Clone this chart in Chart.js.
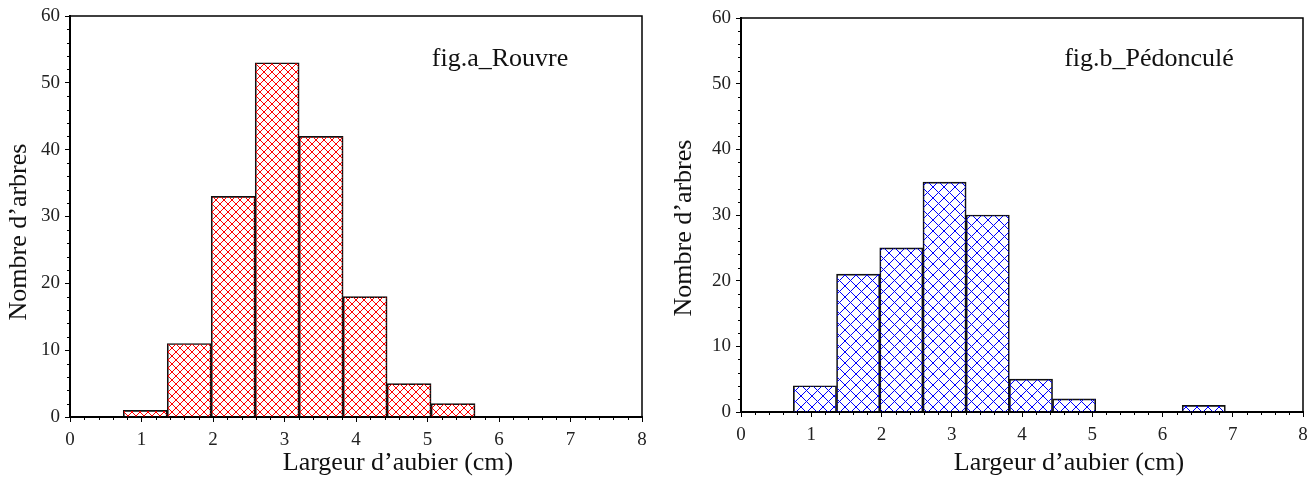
<!DOCTYPE html>
<html>
<head>
<meta charset="utf-8">
<script src="https://cdn.jsdelivr.net/npm/chart.js@4.4.1/dist/chart.umd.min.js"></script>
<style>
  body { margin: 0; background: #fff; }
  #wrap { position: relative; width: 1316px; height: 477px; }
  canvas { position: absolute; top: 0; }
  #chartA { left: 0; }
  #chartB { left: 658px; }
</style>
</head>
<body>
<div id="wrap">
  <canvas id="chartA" width="658" height="477"></canvas>
  <canvas id="chartB" width="658" height="477"></canvas>
</div>
<script>
// class centres (cm), classes are 0.615 cm wide starting at 0.745
const binCenters = [1.0525, 1.6675, 2.2825, 2.8975, 3.5125, 4.1275, 4.7425, 5.3575, 5.9725, 6.5875];
const rouvreCounts = [1, 11, 33, 53, 42, 18, 5, 2, 0, 0];
const pedonculeCounts = [4, 21, 25, 35, 30, 5, 2, 0, 0, 1];
const xTickValues = [0, 1, 2, 3, 4, 5, 6, 7, 8];
const yTickValues = [0, 10, 20, 30, 40, 50, 60];
const xTitle = 'Largeur d\u2019aubier (cm)';
const yTitle = 'Nombre d\u2019arbres';

const serif = '"Liberation Serif", "Times New Roman", serif';

// crisp 1px cross hatch
function hatch(color, size) {
  const c = document.createElement('canvas');
  c.width = size;
  c.height = size;
  const g = c.getContext('2d');
  g.fillStyle = color;
  for (let i = 0; i < size; i++) {
    g.fillRect(i, i, 1, 1);
    g.fillRect(size - 1 - i, i, 1, 1);
  }
  return g.createPattern(c, 'repeat');
}

// frame, minor ticks and texts
const decor = {
  id: 'decor',
  afterDraw(chart, args, o) {
    const { ctx, chartArea: a, scales: { x, y } } = chart;
    ctx.save();
    ctx.strokeStyle = '#000';
    ctx.lineWidth = 1.5;
    ctx.beginPath();
    ctx.moveTo(a.left, a.top);
    ctx.lineTo(a.right, a.top);
    ctx.lineTo(a.right, a.bottom);
    ctx.stroke();

    ctx.lineWidth = 1;
    ctx.beginPath();
    for (let i = 1; i < 40; i++) {
      if (i % 5 === 0) continue;
      const px = Math.round(x.getPixelForValue(i * 0.2)) + 0.5;
      ctx.moveTo(px, a.bottom);
      ctx.lineTo(px, a.bottom + 3);
    }
    for (let v = 2; v < 60; v += 2) {
      if (v % 10 === 0) continue;
      const py = Math.round(y.getPixelForValue(v)) + 0.5;
      ctx.moveTo(a.left - 3, py);
      ctx.lineTo(a.left, py);
    }
    ctx.stroke();

    ctx.fillStyle = '#111';
    ctx.font = '26px ' + serif;
    ctx.textAlign = 'center';
    ctx.textBaseline = 'alphabetic';
    ctx.fillText(o.title, o.titleX, 66);
    ctx.fillText(xTitle, a.left + 328, 470);
    ctx.translate(o.yTitleX, o.yTitleY);
    ctx.rotate(-Math.PI / 2);
    ctx.textBaseline = 'middle';
    ctx.fillText(yTitle, 0, 0);
    ctx.restore();
  }
};

function makeChart(id, counts, color, size, pad, deco) {
  const ctx = document.getElementById(id).getContext('2d');
  return new Chart(ctx, {
    type: 'bar',
    data: {
      datasets: [{
        data: binCenters.map((c, i) => ({ x: c, y: counts[i] })),
        backgroundColor: hatch(color, size),
        borderColor: '#111',
        borderWidth: 1,
        barPercentage: 1,
        categoryPercentage: 1
      }]
    },
    options: {
      responsive: false,
      animation: false,
      layout: { padding: pad },
      plugins: {
        legend: { display: false },
        tooltip: { enabled: false },
        decor: deco
      },
      scales: {
        x: {
          type: 'linear',
          min: 0,
          max: 8,
          offset: false,
          afterBuildTicks: s => { s.ticks = xTickValues.map(v => ({ value: v })); },
          afterFit: s => { s.height = 40; s.paddingLeft = 0; s.paddingRight = 0; },
          ticks: { font: { family: serif, size: 19 }, color: '#222', padding: 7, maxRotation: 0 },
          grid: { drawOnChartArea: false, offset: false, tickLength: 5, color: '#000', tickWidth: 1 },
          border: { color: '#000', width: 2 }
        },
        y: {
          min: 0,
          max: 60,
          afterBuildTicks: s => { s.ticks = yTickValues.map(v => ({ value: v })); },
          afterFit: s => { s.width = 50; s.paddingTop = 0; s.paddingBottom = 0; },
          ticks: { font: { family: serif, size: 19 }, color: '#222', padding: 5 },
          grid: { drawOnChartArea: false, tickLength: 5, color: '#000', tickWidth: 1 },
          border: { color: '#000', width: 2 }
        }
      }
    },
    plugins: [decor]
  });
}

makeChart('chartA', rouvreCounts, '#ff0000', 8,
  { left: 20, top: 16, right: 16, bottom: 20 },
  { title: 'fig.a_Rouvre', titleX: 500, yTitleX: 19, yTitleY: 232 });
makeChart('chartB', pedonculeCounts, '#0000ff', 11,
  { left: 33, top: 18, right: 13, bottom: 25 },
  { title: 'fig.b_P\u00e9doncul\u00e9', titleX: 491, yTitleX: 26, yTitleY: 228 });
</script>
</body>
</html>
